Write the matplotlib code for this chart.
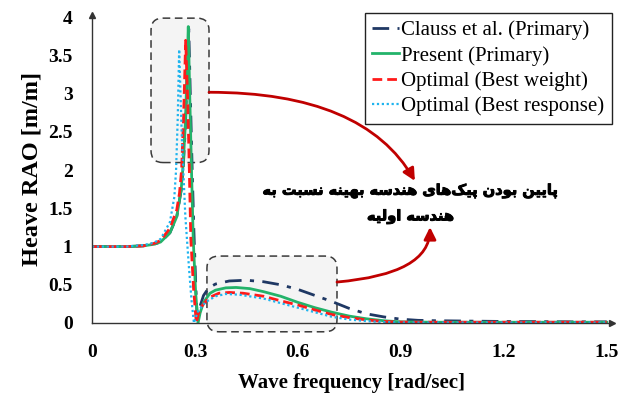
import matplotlib
matplotlib.use("Agg")
import matplotlib.pyplot as plt
import matplotlib.patheffects as pe
from matplotlib.patches import FancyBboxPatch, FancyArrowPatch

# ── data ────────────────────────────────────────────────────────────────────
f_clauss = [0.0, 0.05, 0.10, 0.15, 0.18, 0.20, 0.227, 0.247, 0.26, 0.266, 0.272,
            0.277, 0.282, 0.287, 0.292, 0.297, 0.302, 0.307, 0.315, 0.325, 0.34,
            0.36, 0.40, 0.45, 0.50, 0.55, 0.60, 0.65, 0.70, 0.75, 0.80, 0.85,
            0.90, 0.95, 1.00, 1.10, 1.20, 1.30, 1.40, 1.50]
rao_clauss = [1.0, 1.0, 1.0, 1.01, 1.03, 1.06, 1.18, 1.39, 1.74, 2.05, 2.55,
              3.2, 3.85, 2.9, 2.0, 1.2, 0.55, 0.0, 0.22, 0.36, 0.46,
              0.51, 0.55, 0.56, 0.54, 0.50, 0.44, 0.36, 0.28, 0.19, 0.12, 0.08,
              0.05, 0.035, 0.03, 0.025, 0.02, 0.018, 0.015, 0.015]

f_present = [0.0, 0.05, 0.10, 0.15, 0.18, 0.20, 0.227, 0.247, 0.26, 0.266, 0.272,
             0.277, 0.2806, 0.285, 0.29, 0.295, 0.302, 0.309, 0.315, 0.325, 0.344,
             0.36, 0.39, 0.42, 0.46, 0.50, 0.55, 0.60, 0.65, 0.70, 0.75, 0.80,
             0.85, 0.90, 1.00, 1.10, 1.20, 1.30, 1.40, 1.50]
rao_present = [1.0, 1.0, 1.0, 1.01, 1.03, 1.06, 1.18, 1.39, 1.75, 2.1, 2.6,
               3.3, 3.88, 2.95, 2.0, 1.1, 0.4, 0.0, 0.13, 0.27, 0.39,
               0.43, 0.46, 0.465, 0.45, 0.41, 0.35, 0.27, 0.20, 0.14, 0.09, 0.055,
               0.03, 0.015, 0.01, 0.01, 0.01, 0.01, 0.01, 0.01]

f_weight = [0.0, 0.05, 0.10, 0.15, 0.18, 0.20, 0.227, 0.247, 0.255, 0.261, 0.267,
            0.273, 0.279, 0.283, 0.288, 0.296, 0.304, 0.31, 0.32, 0.34, 0.37,
            0.40, 0.44, 0.50, 0.55, 0.60, 0.65, 0.70, 0.75, 0.80, 0.85, 0.90,
            1.00, 1.10, 1.20, 1.30, 1.40, 1.50]
rao_weight = [1.0, 1.0, 1.0, 1.01, 1.04, 1.08, 1.24, 1.48, 1.7, 2.0, 2.7,
              3.7, 2.9, 2.13, 1.1, 0.45, 0.0, 0.12, 0.22, 0.33, 0.39,
              0.40, 0.39, 0.35, 0.29, 0.235, 0.17, 0.11, 0.07, 0.04, 0.02, 0.012,
              0.01, 0.01, 0.01, 0.01, 0.01, 0.01]

f_response = [0.0, 0.05, 0.10, 0.15, 0.18, 0.20, 0.227, 0.24, 0.245, 0.25, 0.254,
              0.258, 0.262, 0.267, 0.272, 0.277, 0.283, 0.29, 0.297, 0.303, 0.31,
              0.33, 0.36, 0.39, 0.43, 0.50, 0.55, 0.60, 0.65, 0.70, 0.75, 0.80,
              0.85, 0.90, 1.00, 1.10, 1.20, 1.30, 1.40, 1.50]
rao_response = [1.0, 1.0, 1.0, 1.02, 1.05, 1.1, 1.32, 1.65, 2.0, 2.7, 3.58,
                3.0, 2.4, 1.9, 1.4, 1.08, 0.7, 0.3, 0.0, 0.08, 0.16,
                0.27, 0.35, 0.38, 0.37, 0.32, 0.26, 0.20, 0.14, 0.08, 0.045, 0.025,
                0.012, 0.006, 0.005, 0.005, 0.005, 0.005, 0.005, 0.005]

labels = ["Clauss et al. (Primary)", "Present (Primary)",
          "Optimal (Best weight)", "Optimal (Best response)"]
x_ticks = [0, 0.3, 0.6, 0.9, 1.2, 1.5]
x_tick_labels = ["0", "0.3", "0.6", "0.9", "1.2", "1.5"]
y_ticks = [0, 0.5, 1, 1.5, 2, 2.5, 3, 3.5, 4]
y_tick_labels = ["0", "0.5", "1", "1.5", "2", "2.5", "3", "3.5", "4"]

note_lines = ["پایین بودن پیک‌های هندسه بهینه نسبت به", "هندسه اولیه"]

# ── tiny arabic-script shaper (matplotlib does no shaping / bidi) ───────────
FORMS = {  # iso, fin, ini, med
    "ا": ("\uFE8D", "\uFE8E", None, None),
    "د": ("\uFEA9", "\uFEAA", None, None),
    "و": ("\uFEED", "\uFEEE", None, None),
    "ب": ("\uFE8F", "\uFE90", "\uFE91", "\uFE92"),
    "پ": ("\uFB56", "\uFB57", "\uFB58", "\uFB59"),
    "ت": ("\uFE95", "\uFE96", "\uFE97", "\uFE98"),
    "س": ("\uFEB1", "\uFEB2", "\uFEB3", "\uFEB4"),
    "ک": ("\uFB8E", "\uFB8F", "\uFB90", "\uFB91"),
    "ل": ("\uFEDD", "\uFEDE", "\uFEDF", "\uFEE0"),
    "ن": ("\uFEE5", "\uFEE6", "\uFEE7", "\uFEE8"),
    "ه": ("\uFEE9", "\uFEEA", "\uFEEB", "\uFEEC"),
    "ی": ("\uFBFC", "\uFBFD", "\uFBFE", "\uFBFF"),
}


def shape(s):
    out = []
    for i, c in enumerate(s):
        if c not in FORMS:
            if c != "\u200c":
                out.append(c)
            continue
        p = s[i - 1] if i > 0 else ""
        n = s[i + 1] if i + 1 < len(s) else ""
        join_prev = p in FORMS and FORMS[p][2] is not None
        join_next = FORMS[c][2] is not None and n in FORMS
        iso, fin, ini, med = FORMS[c]
        if join_prev and join_next:
            out.append(med)
        elif join_prev:
            out.append(fin)
        elif join_next:
            out.append(ini)
        else:
            out.append(iso)
    return "".join(reversed(out))


# ── figure ──────────────────────────────────────────────────────────────────
SERIF = "Liberation Serif"
fig = plt.figure(figsize=(6.38, 3.97), dpi=100)
ax = fig.add_axes([0.1442, 0.1864, 0.8148, 0.7756])
ax.set_xlim(0, 1.515)
ax.set_ylim(0, 4.03)

# highlight boxes (behind the curves)
asp = (0.8148 * 638 / 1.515) / (0.7756 * 397 / 4.03)
for (x0, x1, y0, y1) in [(0.172, 0.341, 2.10, 3.99), (0.335, 0.714, -0.115, 0.876)]:
    ax.add_patch(FancyBboxPatch((x0, y0), x1 - x0, y1 - y0,
                                boxstyle="round,pad=0,rounding_size=0.035",
                                mutation_aspect=asp, fc="#f4f4f4", ec="#3a3a3a",
                                lw=1.1, ls=(0, (5, 3)), zorder=1, clip_on=False))

ax.plot(f_clauss, rao_clauss, color="#1f3864", lw=2.0, ls=(0, (6, 3, 1.5, 3)),
        label=labels[0], zorder=3)
ax.plot(f_present, rao_present, color="#23b36a", lw=2.0, label=labels[1], zorder=4)
ax.plot(f_weight, rao_weight, color="#ff1a1a", lw=2.0, ls=(0, (3.5, 1.8)),
        label=labels[2], zorder=5)
ax.plot(f_response, rao_response, color="#1fb4ee", lw=1.6, ls=(0, (1, 1.2)),
        label=labels[3], zorder=6)

# axes look: only left/bottom with arrow heads, no tick marks
for s in ["top", "right"]:
    ax.spines[s].set_visible(False)
for s in ["left", "bottom"]:
    ax.spines[s].set_color("#333333")
    ax.spines[s].set_linewidth(1.0)
    ax.spines[s].set_zorder(7)
ax.plot(1, 0, marker=">", ms=5, color="#333333", transform=ax.transAxes, clip_on=False)
ax.plot(0, 1, marker="^", ms=5, color="#333333", transform=ax.transAxes, clip_on=False)

ax.set_xticks(x_ticks)
ax.set_xticklabels(x_tick_labels)
ax.set_yticks(y_ticks)
ax.set_yticklabels(y_tick_labels)
ax.tick_params(length=0, labelsize=14)
ax.tick_params(axis="x", pad=15)
ax.tick_params(axis="y", pad=14)
for t in ax.get_xticklabels() + ax.get_yticklabels():
    t.set_fontfamily(SERIF)
    t.set_fontweight("bold")

ax.set_xlabel("Wave frequency [rad/sec]", fontfamily=SERIF, fontweight="bold",
              fontsize=15, labelpad=9)
ax.set_ylabel("Heave RAO [m/m]", fontfamily=SERIF, fontweight="bold",
              fontsize=17.5, labelpad=4)

leg = ax.legend(loc="upper right", bbox_to_anchor=(1.0, 1.006), fancybox=False,
                framealpha=1, edgecolor="#222222", handlelength=1.3,
                handletextpad=0.1, borderpad=0.35, labelspacing=0.27,
                borderaxespad=0, prop={"family": SERIF, "size": 15})
leg.get_frame().set_linewidth(1.0)
leg.set_zorder(8)

# red arrows and persian note
red = "#c00000"
ax.add_patch(FancyArrowPatch((0.341, 3.02), (0.941, 1.86),
                             connectionstyle="angle3,angleA=0,angleB=-60",
                             arrowstyle="-|>,head_length=0.6,head_width=0.3",
                             mutation_scale=12, color=red, lw=2, shrinkA=0, shrinkB=0,
                             zorder=9))
ax.add_patch(FancyArrowPatch((0.714, 0.536), (0.985, 1.255),
                             connectionstyle="angle3,angleA=5,angleB=90",
                             arrowstyle="-|>,head_length=0.6,head_width=0.3",
                             mutation_scale=12, color=red, lw=2, shrinkA=0, shrinkB=0,
                             zorder=9))

ax.text(0.929, 1.56, "\n".join(shape(l) for l in note_lines), ha="center", va="center",
        multialignment="center", fontsize=10.5, fontweight="bold",
        family="DejaVu Sans", linespacing=1.8, zorder=10,
        path_effects=[pe.withStroke(linewidth=0.7, foreground="black")])

fig.savefig("out.png", dpi=100)
